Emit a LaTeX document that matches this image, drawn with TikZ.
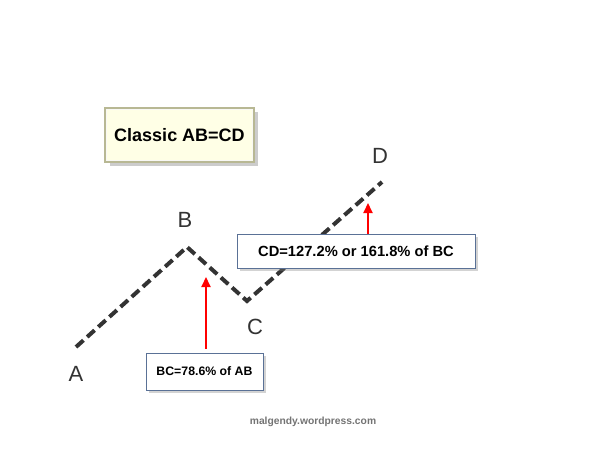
\documentclass[tikz,border=0pt]{standalone}
\usepackage{fontspec}
\setmainfont{Liberation Sans}
\usetikzlibrary{arrows.meta,shadows}
\definecolor{wavegray}{HTML}{333333}
\definecolor{titlefill}{HTML}{FFFFE6}
\definecolor{titleedge}{HTML}{B8B894}
\definecolor{boxedge}{HTML}{5A7196}
\tikzset{
  wave/.style={draw=wavegray, line width=4pt, dash pattern=on 10pt off 5pt},
  ptlabel/.style={text=wavegray, font=\fontsize{22}{24}\selectfont},
  notebox/.style={draw=boxedge, line width=0.8pt, fill=white, font=\bfseries,
    drop shadow={opacity=0.35, shadow xshift=3pt, shadow yshift=-3pt}},
  uparrow/.style={draw=red, line width=2pt, -{Triangle[length=10pt,width=9pt]}}
}
\begin{document}
\begin{tikzpicture}[x=1pt,y=-1pt]
  \useasboundingbox (0,0) rectangle (614,460);
  % the four turning points
  \coordinate (A) at (76,347);
  \coordinate (B) at (187,247);
  \coordinate (C) at (247,301);
  \coordinate (D) at (382,182);
  \draw[wave] (A) -- (B) -- (C) -- (D);
  \node[ptlabel] (Alab) at (76,374) {A};
  \node[ptlabel] (Blab) at (185,220) {B};
  \node[ptlabel] (Clab) at (255,327) {C};
  \node[ptlabel] (Dlab) at (380,156) {D};
  % title
  \node[draw=titleedge, line width=2.5pt, fill=titlefill, minimum width=148pt,
    minimum height=53pt, font=\bfseries\fontsize{18}{20}\selectfont,
    drop shadow={opacity=0.4, shadow xshift=4pt, shadow yshift=-4pt}]
    (title) at (179.5,135) {Classic AB=CD};
  \draw[white!90!titleedge, line width=0.6pt] ([shift={(2.5pt,-2.5pt)}]title.north west)
    rectangle ([shift={(-2.5pt,2.5pt)}]title.south east);
  % notes
  \node[notebox, minimum width=117pt, minimum height=37pt,
    font=\bfseries\fontsize{12.3}{14}\selectfont] (bcnote) at (204.5,371.5) {BC=78.6\% of AB};
  \node[notebox, minimum width=238pt, minimum height=34pt,
    font=\bfseries\fontsize{14.7}{16}\selectfont] (cdnote) at (356,251) {CD=127.2\% or 161.8\% of BC};
  \coordinate (bctip) at (206,277);
  \coordinate (cdtip) at (368,203);
  \draw[uparrow] ([yshift=4pt]bcnote.north -| bctip) -- (bctip);
  \draw[uparrow] (cdnote.north -| cdtip) -- (cdtip);
  % credit
  \node[text=gray!90!black, font=\bfseries\fontsize{10.3}{12}\selectfont] (credit) at (313,422) {malgendy.wordpress.com};
\end{tikzpicture}
\end{document}
